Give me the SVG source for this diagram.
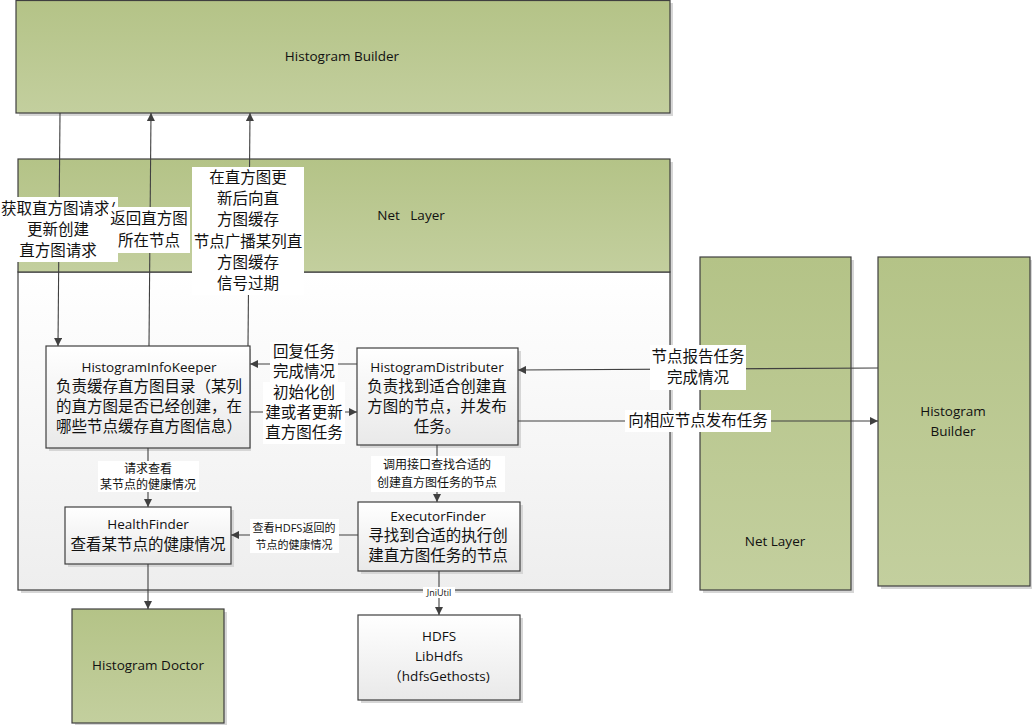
<svg xmlns="http://www.w3.org/2000/svg" width="1032" height="725" viewBox="0 0 1032 725">
<defs>
  <linearGradient id="green" x1="0" y1="0" x2="0" y2="1">
    <stop offset="0" stop-color="#b4c387"/>
    <stop offset="1" stop-color="#c3cf9e"/>
  </linearGradient>
  <linearGradient id="pale" x1="0" y1="0" x2="0" y2="1">
    <stop offset="0" stop-color="#ffffff"/>
    <stop offset="1" stop-color="#eeeeee"/>
  </linearGradient>
  <linearGradient id="node" x1="0" y1="0" x2="0" y2="1">
    <stop offset="0" stop-color="#ffffff"/>
    <stop offset="1" stop-color="#e9e9e9"/>
  </linearGradient>
  <marker id="arr" viewBox="0 0 10 10" refX="10" refY="5" markerWidth="10" markerHeight="8" markerUnits="userSpaceOnUse" orient="auto">
    <path d="M0,0 L10,5 L0,10 z" fill="#404040"/>
  </marker>
</defs>
<style>
  .g { fill: url(#green); stroke: #3f3f3f; stroke-width: 1.2; }
  .n { fill: url(#node); stroke: #3f3f3f; stroke-width: 1.2; }
  .sh { fill: #d6d6d6; }
  .t { font-family: "Open Sans", "Noto Sans CJK SC", sans-serif; fill: #111111; text-anchor: middle; dominant-baseline: central; }
  .big { font-size: 13.5px; }
  .cn { font-size: 15.5px; }
  .sm { font-size: 12px; }
  .xs { font-size: 11px; }
  .c { stroke: #404040; stroke-width: 1.1; fill: none; }
  .c.a { marker-end: url(#arr); }
  .bg { fill: #ffffff; }
</style>
<rect width="1032" height="725" fill="#ffffff"/>

<g id="top-builder">
  <rect class="sh" x="19" y="3" width="654" height="113"/>
  <rect class="g" x="16" y="0.5" width="654" height="112.5"/>
  <text class="t big" x="342" y="56">Histogram Builder</text>
</g>

<g id="net-layer">
  <rect class="sh" x="21" y="162" width="652" height="431"/>
  <rect x="18" y="272" width="652" height="318" fill="url(#pale)" stroke="#3f3f3f" stroke-width="1.2"/>
  <rect class="g" x="18" y="159" width="652" height="113"/>
  <text class="t big" x="411" y="215" xml:space="preserve">Net   Layer</text>
</g>

<g id="right-net-layer">
  <rect class="sh" x="703" y="260" width="151" height="333"/>
  <rect class="g" x="700" y="257" width="151" height="333"/>
  <text class="t big" x="775" y="541">Net Layer</text>
</g>

<g id="right-builder">
  <rect class="sh" x="881" y="260" width="152" height="329"/>
  <rect class="g" x="878" y="257" width="152" height="329"/>
  <text class="t big" x="953" y="411">Histogram</text>
  <text class="t big" x="953" y="431">Builder</text>
</g>

<g id="histogram-doctor">
  <rect class="sh" x="75" y="612" width="152" height="114"/>
  <rect class="g" x="72" y="609" width="152" height="114"/>
  <text class="t big" x="148" y="665">Histogram Doctor</text>
</g>

<g id="hdfs">
  <rect class="sh" x="361" y="618" width="162" height="85"/>
  <rect class="n" x="358" y="615" width="162" height="85"/>
  <text class="t big" x="439" y="636">HDFS</text>
  <text class="t big" x="439" y="656">LibHdfs</text>
  <text class="t big" x="439" y="676">（hdfsGethosts)</text>
</g>

<g id="histogram-info-keeper">
  <rect class="sh" x="49" y="349" width="202" height="102"/>
  <rect class="n" x="46" y="346" width="204" height="102"/>
  <text class="t big" x="149" y="367">HistogramInfoKeeper</text>
  <text class="t cn" x="149" y="386">负责缓存直方图目录（某列</text>
  <text class="t cn" x="149" y="406">的直方图是否已经创建，在</text>
  <text class="t cn" x="149" y="426">哪些节点缓存直方图信息）</text>
</g>

<g id="histogram-distributer">
  <rect class="sh" x="360" y="351" width="161" height="97"/>
  <rect class="n" x="357" y="348" width="161" height="97"/>
  <text class="t big" x="437" y="367">HistogramDistributer</text>
  <text class="t cn" x="437" y="386">负责找到适合创建直</text>
  <text class="t cn" x="437" y="406">方图的节点，并发布</text>
  <text class="t cn" x="437" y="426">任务。</text>
</g>

<g id="health-finder">
  <rect class="sh" x="68" y="510" width="166" height="57"/>
  <rect class="n" x="65" y="507" width="166" height="57"/>
  <text class="t big" x="148" y="524">HealthFinder</text>
  <text class="t cn" x="148" y="544">查看某节点的健康情况</text>
</g>

<g id="executor-finder">
  <rect class="sh" x="361" y="505" width="162" height="69"/>
  <rect class="n" x="358" y="502" width="162" height="69"/>
  <text class="t big" x="438" y="516">ExecutorFinder</text>
  <text class="t cn" x="438" y="535">寻找到合适的执行创</text>
  <text class="t cn" x="438" y="555">建直方图任务的节点</text>
</g>

<g id="connectors">
  <line class="c a" x1="60" y1="113" x2="58" y2="346"/>
  <rect class="bg" x="0" y="197" width="118" height="65"/>
  <text class="t cn" x="58" y="208">获取直方图请求/</text>
  <text class="t cn" x="58" y="229">更新创建</text>
  <text class="t cn" x="58" y="250">直方图请求</text>

  <line class="c a" x1="149" y1="346" x2="151" y2="113"/>
  <rect class="bg" x="108" y="207" width="82" height="46"/>
  <text class="t cn" x="149" y="218">返回直方图</text>
  <text class="t cn" x="149" y="240">所在节点</text>

  <line class="c a" x1="248" y1="346" x2="250" y2="113"/>
  <rect class="bg" x="192" y="167" width="112" height="128"/>
  <text class="t cn" x="248" y="177">在直方图更</text>
  <text class="t cn" x="248" y="198">新后向直</text>
  <text class="t cn" x="248" y="219">方图缓存</text>
  <text class="t cn" x="248" y="241">节点广播某列直</text>
  <text class="t cn" x="248" y="262">方图缓存</text>
  <text class="t cn" x="248" y="283">信号过期</text>

  <line class="c a" x1="357" y1="364" x2="250" y2="364"/>
  <line class="c a" x1="250" y1="412" x2="357" y2="412"/>
  <rect class="bg" x="270" y="342" width="68" height="42"/>
  <rect class="bg" x="263" y="382" width="82" height="62"/>
  <text class="t cn" x="304" y="351">回复任务</text>
  <text class="t cn" x="304" y="371">完成情况</text>
  <text class="t cn" x="304" y="392">初始化创</text>
  <text class="t cn" x="304" y="412">建或者更新</text>
  <text class="t cn" x="304" y="432">直方图任务</text>

  <line class="c a" x1="148" y1="448" x2="148" y2="507"/>
  <rect class="bg" x="98" y="461" width="101" height="31"/>
  <text class="t sm" x="148" y="468">请求查看</text>
  <text class="t sm" x="148" y="484">某节点的健康情况</text>

  <line class="c a" x1="437" y1="445" x2="437" y2="502"/>
  <rect class="bg" x="371" y="456" width="134" height="36"/>
  <text class="t sm" x="437" y="464">调用接口查找合适的</text>
  <text class="t sm" x="437" y="482">创建直方图任务的节点</text>

  <line class="c a" x1="358" y1="535" x2="231" y2="535"/>
  <rect class="bg" x="250" y="519" width="89" height="34"/>
  <text class="t xs" x="294" y="527">查看HDFS返回的</text>
  <text class="t xs" x="294" y="544">节点的健康情况</text>

  <line class="c a" x1="148" y1="564" x2="148" y2="609"/>

  <line class="c a" x1="439" y1="571" x2="439" y2="615"/>
  <rect class="bg" x="423" y="587" width="32" height="11"/>
  <text class="t" style="font-size:9px" x="439" y="592">JniUtil</text>

  <line class="c a" x1="878" y1="368" x2="518" y2="370"/>
  <rect class="bg" x="650" y="345" width="96" height="45"/>
  <text class="t cn" x="698" y="356">节点报告任务</text>
  <text class="t cn" x="698" y="377">完成情况</text>

  <line class="c a" x1="518" y1="421" x2="878" y2="421"/>
  <rect class="bg" x="625" y="410" width="146" height="22"/>
  <text class="t cn" x="698" y="420">向相应节点发布任务</text>
</g>
</svg>
